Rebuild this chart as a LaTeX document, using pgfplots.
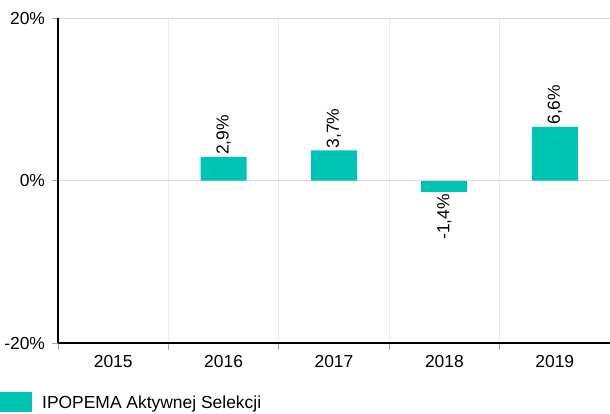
\documentclass[border=0pt]{standalone}
\usepackage{pgfplots}
\pgfplotsset{compat=1.18}
\usepackage{fontspec}
\setmainfont{Liberation Sans}
\definecolor{barc}{RGB}{0,196,179}
\begin{document}
\fontsize{17.5}{20}\selectfont
\begin{tikzpicture}
\begin{axis}[
  name=ax,
  /pgf/number format/assume math mode=true,
  scale only axis, width=552bp, height=325bp,
  xmin=-0.5, xmax=4.5, ymin=-20, ymax=20,
  axis lines=left,
  axis line style={-, black, line width=1.5bp},
  tick align=outside,
  ytick={-20,0,20},
  yticklabel={\pgfmathprintnumber{\tick}\%},
  ymajorgrids,
  y grid style={draw=black!15, line width=0.8bp},
  y tick style={draw=black!35, line width=0.8bp},
  major tick length=6bp, minor tick length=7bp,
  xtick={0,1,2,3,4},
  xticklabels={2015,2016,2017,2018,2019},
  major x tick style={draw=none},
  minor xtick={-0.5,0.5,1.5,2.5,3.5,4.5},
  xminorgrids,
  minor x grid style={draw=black!8, line width=0.8bp},
  minor x tick style={draw=black!35, line width=0.8bp},
  x tick label style={yshift=0bp},
  y tick label style={xshift=-1bp},
  ybar, bar width=46bp, bar shift=0pt,
  legend style={at={(0,0)}, anchor=west, xshift=-58bp, yshift=-59bp,
    draw=none, fill=none, inner sep=0pt, column sep=0pt,
    nodes={inner sep=0pt, text depth=0pt}},
  legend cell align=left,
  legend image code/.code={\fill[barc] (0bp,-10bp) rectangle (32bp,10bp);},
  every node near coord/.append style={rotate=90, font=\fontsize{17.5}{20}\selectfont, inner sep=2bp},
]
\addplot[fill=barc, draw=none,
  nodes near coords={\pgfmathprintnumber[fixed,fixed zerofill,precision=1,use comma]{\pgfplotspointmeta}\%},
  every node near coord/.append style={anchor=west}]
  coordinates {(1,2.9) (2,3.7) (4,6.6)};
\addlegendentry{\hspace{10bp}IPOPEMA Aktywnej Selekcji}
\addplot[fill=barc, draw=none, forget plot,
  nodes near coords={\pgfmathprintnumber[fixed,fixed zerofill,precision=1,use comma]{\pgfplotspointmeta}\%},
  every node near coord/.append style={anchor=east}]
  coordinates {(3,-1.4)};
\end{axis}
\pgfresetboundingbox
\path ([shift={(-58bp,-71bp)}]ax.south west) rectangle ([shift={(0bp,18bp)}]ax.north east);
\end{tikzpicture}
\end{document}
